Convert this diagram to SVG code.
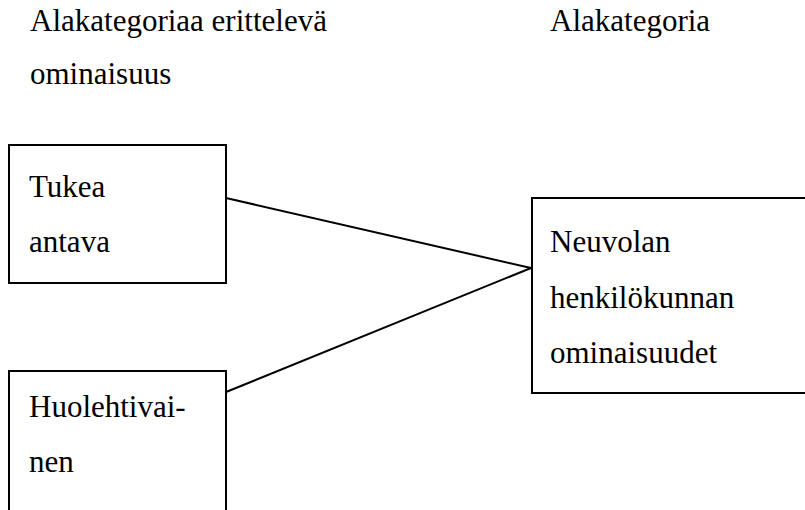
<svg xmlns="http://www.w3.org/2000/svg" width="805" height="510" viewBox="0 0 805 510">
<style>
text{font-family:"Liberation Serif","Times New Roman",serif;font-size:31px;fill:#000}
.box{fill:#fff;stroke:#000;stroke-width:2}
.conn{stroke:#000;stroke-width:2;fill:none}
</style>
<rect width="805" height="510" fill="#fff"/>
<g id="headers">
<text x="30" y="31">Alakategoriaa erittelevä</text>
<text x="30" y="84">ominaisuus</text>
<text x="550" y="31">Alakategoria</text>
</g>
<g id="connectors">
<line class="conn" x1="226" y1="198" x2="531" y2="268"/>
<line class="conn" x1="226" y1="392" x2="531" y2="268"/>
</g>
<g id="node-tukea">
<rect class="box" x="9" y="145" width="217" height="138"/>
<text x="29" y="197">Tukea</text>
<text x="29" y="252">antava</text>
</g>
<g id="node-huolehtivainen">
<rect class="box" x="9" y="371" width="217" height="160"/>
<text x="29" y="417">Huolehtivai-</text>
<text x="29" y="472">nen</text>
</g>
<g id="node-neuvola">
<rect class="box" x="532" y="198" width="290" height="195"/>
<text x="550" y="252">Neuvolan</text>
<text x="550" y="308">henkilökunnan</text>
<text x="550" y="363">ominaisuudet</text>
</g>
</svg>
